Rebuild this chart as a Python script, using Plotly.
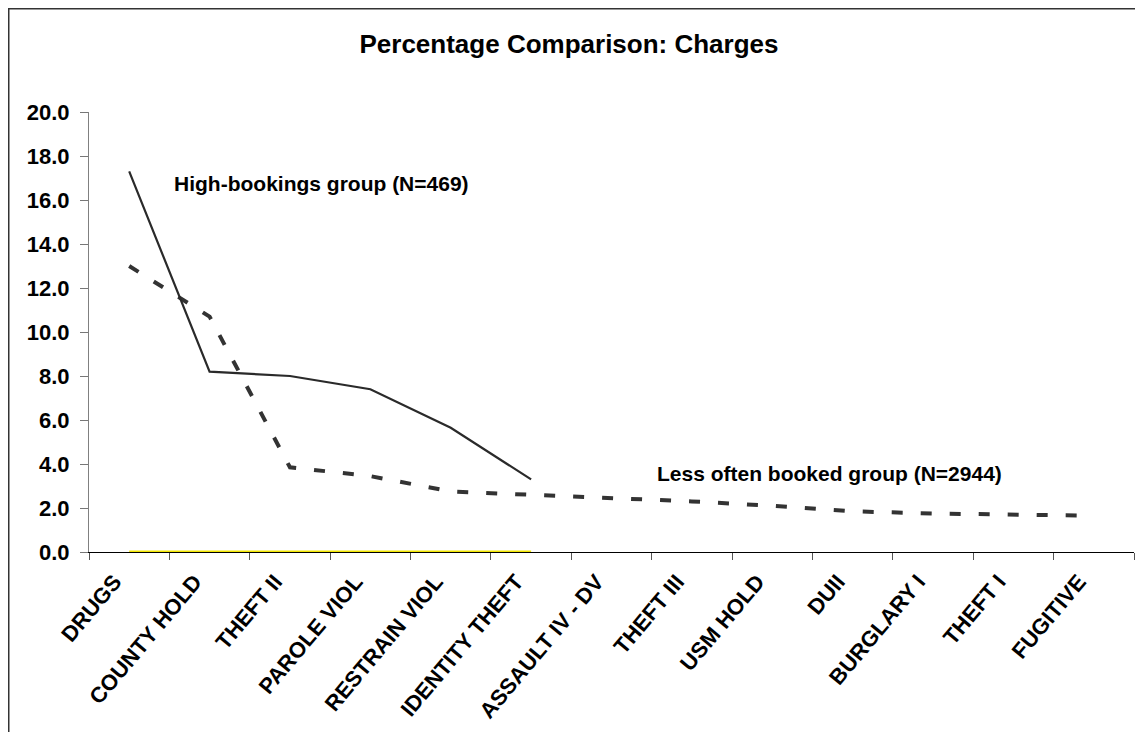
import plotly.graph_objects as go

categories = ["DRUGS", "COUNTY HOLD", "THEFT II", "PAROLE VIOL", "RESTRAIN VIOL",
              "IDENTITY THEFT", "ASSAULT IV - DV", "THEFT III", "USM HOLD", "DUII",
              "BURGLARY I", "THEFT I", "FUGITIVE"]
high_bookings = [17.3, 8.2, 8.0, 7.4, 5.65, 3.3]
less_often = [13.0, 10.7, 3.85, 3.45, 2.75, 2.6, 2.45, 2.3, 2.1, 1.85, 1.75, 1.7, 1.65]
baseline = [0, 0, 0, 0, 0, 0]
y_ticks = [0, 2, 4, 6, 8, 10, 12, 14, 16, 18, 20]

FONT = "Liberation Sans, Arial, sans-serif"
W, H = 1143, 732
ML, MT, MR, MB = 81, 104, 17, 188
PW, PH = W - ML - MR, H - MT - MB

fig = go.Figure()
fig.add_trace(go.Scatter(x=categories[:len(baseline)], y=baseline, mode="lines", cliponaxis=False,
                         line=dict(color="#f2e600", width=3), showlegend=False, hoverinfo="skip"))
fig.add_trace(go.Scatter(x=categories, y=less_often, mode="lines",
                         line=dict(color="#333333", width=4, dash="11px,18px"), showlegend=False))
fig.add_trace(go.Scatter(x=categories[:len(high_bookings)], y=high_bookings, mode="lines",
                         line=dict(color="#2a2a2a", width=2.2), showlegend=False))

fig.update_layout(
    width=W, height=H,
    paper_bgcolor="white", plot_bgcolor="white",
    margin=dict(l=ML, r=MR, t=MT, b=MB),
    font=dict(family=FONT, color="black"),
    title=dict(text="<b>Percentage Comparison: Charges</b>", x=561 / W, xref="container", xanchor="center",
               y=1 - 36 / H, yref="container", yanchor="middle",
               font=dict(size=26, family=FONT, color="black")),
    xaxis=dict(type="category", categoryorder="array", categoryarray=categories,
               range=[-0.5, 12.5], tickson="boundaries", ticks="outside", ticklen=7,
               tickcolor="#555555", showline=True, linecolor="black", linewidth=1.2,
               showgrid=False, tickangle=-50, automargin=False, layer="below traces",
               ticklabelshift=-15, ticklabelstandoff=7,
               tickfont=dict(size=22, family=FONT, color="black", weight="bold")),
    yaxis=dict(range=[0, 20], tickvals=y_ticks, tickformat=".1f", ticks="outside", ticklen=8,
               tickcolor="#777777", showline=True, linecolor="#808080", linewidth=1,
               showgrid=False, zeroline=False, ticklabelstandoff=6, automargin=False,
               tickfont=dict(size=22, family=FONT, color="black", weight="bold")),
    annotations=[
        dict(text="<b>High-bookings group (N=469)</b>", xref="paper", yref="y",
             x=(172 - 89) / PW, y=16.75, xanchor="left", yanchor="middle", showarrow=False,
             font=dict(size=21, family=FONT, color="black")),
        dict(text="<b>Less often booked group (N=2944)</b>", xref="paper", yref="y",
             x=(655 - 89) / PW, y=3.55, xanchor="left", yanchor="middle", showarrow=False,
             font=dict(size=21, family=FONT, color="black")),
    ],
    shapes=[
        dict(type="rect", xref="paper", yref="paper",
             x0=(0.75 - ML) / PW, x1=(1133 - ML) / PW,
             y0=-0.6, y1=(MT + PH - 0.75) / PH,
             line=dict(color="#333333", width=1.5), fillcolor="rgba(0,0,0,0)", layer="below"),
    ],
)

fig.write_html("out.html")
